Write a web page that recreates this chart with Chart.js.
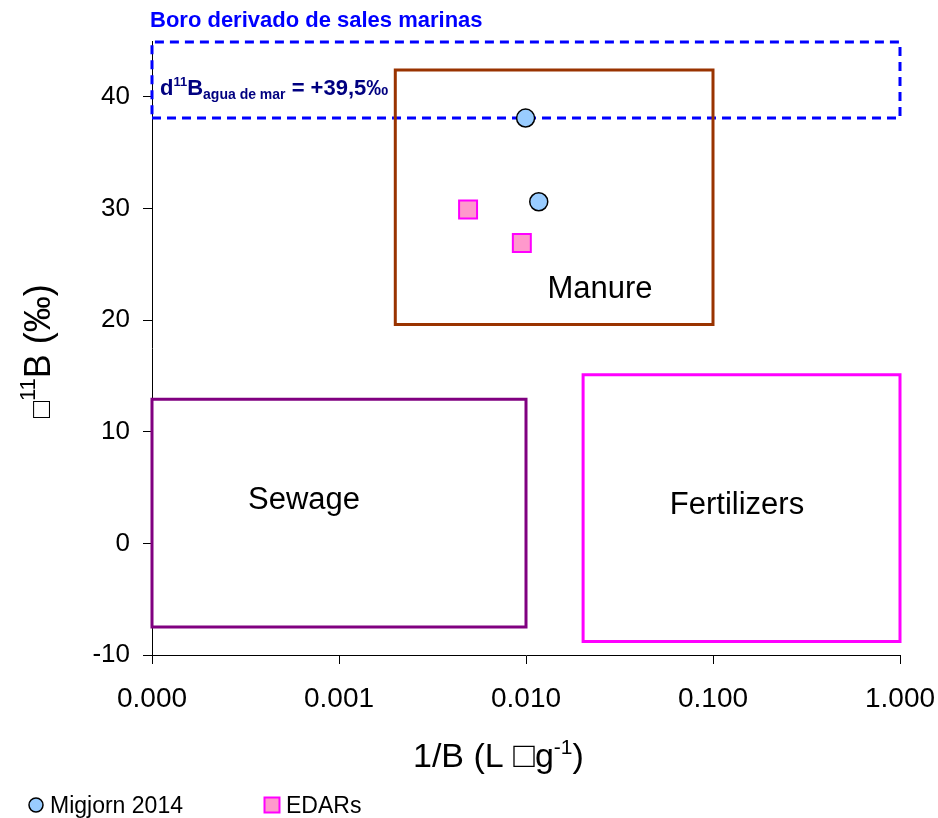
<!DOCTYPE html>
<html>
<head>
<meta charset="utf-8">
<script src="https://cdn.jsdelivr.net/npm/chart.js@4.4.1/dist/chart.umd.min.js"></script>
<style>
  html, body { margin: 0; padding: 0; background: #fff; }
  canvas { display: block; }
</style>
</head>
<body>
<canvas id="chart" width="938" height="818"></canvas>
<script>
// --- datos ---
const xTicks = [0.0001, 0.001, 0.01, 0.1, 1];
const xTickLabels = ['0.000', '0.001', '0.010', '0.100', '1.000'];
const yTicks = [-10, 0, 10, 20, 30, 40];

// muestras
const migjornX = [0.00995, 0.0117];
const migjornY = [38.1, 30.6];
const edarsX = [0.0049, 0.0095];
const edarsY = [29.9, 26.9];

// campos (x min/max, y min/max)
const seaX = [0.0001, 1];        const seaY = [38.1, 44.9];
const manureX = [0.002, 0.1];    const manureY = [19.6, 42.4];
const sewageX = [0.0001, 0.01];  const sewageY = [-7.5, 12.9];
const fertX = [0.0202, 1];       const fertY = [-8.8, 15.1];

const FONT = "'Liberation Sans', Arial, sans-serif";

const zip = (xs, ys) => xs.map((x, i) => ({ x, y: ys[i] }));
const rect = (xs, ys) => [
  { x: xs[0], y: ys[0] }, { x: xs[1], y: ys[0] }, { x: xs[1], y: ys[1] },
  { x: xs[0], y: ys[1] }, { x: xs[0], y: ys[0] },
];
const box = (label, xs, ys, color, dash) => ({
  label, data: rect(xs, ys), showLine: true, fill: false, tension: 0,
  borderColor: color, borderWidth: 3, borderDash: dash || [],
  borderJoinStyle: 'miter', borderCapStyle: dash ? 'butt' : 'square',
  pointRadius: 0, clip: false, order: 2,
});

// texto con partes de distinto tamaño (super/subíndices)
function runs(ctx, x, y, parts) {
  parts.forEach(p => {
    ctx.font = p.font;
    ctx.fillText(p.t, x, y + (p.dy || 0));
    x += ctx.measureText(p.t).width;
  });
  return x;
}

const annotations = {
  id: 'annotations',
  afterDraw(chart) {
    const ctx = chart.ctx;
    ctx.save();
    ctx.textBaseline = 'alphabetic';
    ctx.textAlign = 'left';

    ctx.fillStyle = '#0000FF';
    ctx.font = `bold 22px ${FONT}`;
    ctx.fillText('Boro derivado de sales marinas', 150, 27);

    ctx.fillStyle = '#000080';
    runs(ctx, 160, 95, [
      { t: 'd', font: `bold 22px ${FONT}` },
      { t: '11', font: `bold 13px ${FONT}`, dy: -9 },
      { t: 'B', font: `bold 22px ${FONT}` },
      { t: 'agua de mar', font: `bold 14px ${FONT}`, dy: 4 },
      { t: ' = +39,5‰', font: `bold 22px ${FONT}` },
    ]);

    ctx.fillStyle = '#000';
    ctx.textAlign = 'center';
    ctx.font = `31px ${FONT}`;
    ctx.fillText('Manure', 600, 298);
    ctx.fillText('Sewage', 304, 509);
    ctx.fillText('Fertilizers', 737, 514);
    ctx.textAlign = 'left';

    // título eje x
    runs(ctx, 413, 767, [
      { t: '1/B (L ', font: `34px ${FONT}` },
      { t: '□', font: `36px ${FONT}` },
      { t: 'g', font: `34px ${FONT}` },
      { t: '-1', font: `21px ${FONT}`, dy: -13 },
      { t: ')', font: `34px ${FONT}` },
    ]);

    // título eje y
    ctx.save();
    ctx.translate(50, 418);
    ctx.rotate(-Math.PI / 2);
    runs(ctx, 0, 0, [
      { t: '□', font: `28px ${FONT}` },
      { t: '11', font: `22px ${FONT}`, dy: -15 },
      { t: 'B (‰)', font: `36px ${FONT}` },
    ]);
    ctx.restore();

    // leyenda
    const items = chart.data.datasets.filter(d => d.legendX !== undefined);
    items.forEach(d => {
      ctx.fillStyle = d.backgroundColor;
      ctx.strokeStyle = d.borderColor;
      ctx.lineWidth = d.borderWidth;
      Chart.helpers.drawPoint(ctx, {
        pointStyle: d.pointStyle, radius: d.legendR, rotation: 0, borderWidth: d.borderWidth,
      }, d.legendX, 805);
      ctx.fillStyle = '#000';
      ctx.font = `23px ${FONT}`;
      ctx.fillText(d.label, d.legendX + 14, 813);
    });
    ctx.restore();
  },
};

new Chart(document.getElementById('chart'), {
  type: 'scatter',
  data: {
    datasets: [
      {
        label: 'Migjorn 2014', data: zip(migjornX, migjornY),
        pointStyle: 'circle', radius: 9, backgroundColor: '#99CCFF', borderColor: '#000', borderWidth: 1.5,
        order: 0, clip: false, legendX: 36, legendR: 7,
      },
      {
        label: 'EDARs', data: zip(edarsX, edarsY),
        pointStyle: 'rect', radius: 12.7, backgroundColor: '#FF99CC', borderColor: '#FF00FF', borderWidth: 2,
        order: 0, clip: false, legendX: 272, legendR: 10.6,
      },
      box('Manure', manureX, manureY, '#993300'),
      box('Sewage', sewageX, sewageY, '#800080'),
      box('Fertilizers', fertX, fertY, '#FF00FF'),
      Object.assign(box('Sales marinas', seaX, seaY, '#0000FF', [9, 6]), { order: 3 }),
    ],
  },
  options: {
    responsive: false,
    animation: false,
    layout: { padding: { left: 0, top: 41, right: 38, bottom: 0 } },
    plugins: { legend: { display: false }, tooltip: { enabled: false } },
    scales: {
      x: {
        type: 'logarithmic', min: 0.0001, max: 1,
        afterBuildTicks: s => { s.ticks = xTicks.map(v => ({ value: v })); },
        afterFit: s => { s.height = 163; s.paddingLeft = 0; s.paddingRight = 0; },
        ticks: {
          callback: (v, i) => xTickLabels[i], autoSkip: false, maxRotation: 0,
          color: '#000', font: { family: FONT, size: 28 }, padding: 18,
        },
        grid: { drawOnChartArea: false, color: '#000', tickLength: 9 },
        border: { color: '#000', width: 1 },
      },
      y: {
        min: -10, max: 45,
        afterBuildTicks: s => { s.ticks = yTicks.map(v => ({ value: v })); },
        afterFit: s => { s.width = 152; s.paddingTop = 0; s.paddingBottom = 0; },
        ticks: { color: '#000', font: { family: FONT, size: 26 }, padding: 13 },
        grid: { drawOnChartArea: false, color: '#000', tickLength: 9 },
        border: { color: '#000', width: 1 },
      },
    },
  },
  plugins: [annotations],
});
</script>
</body>
</html>
